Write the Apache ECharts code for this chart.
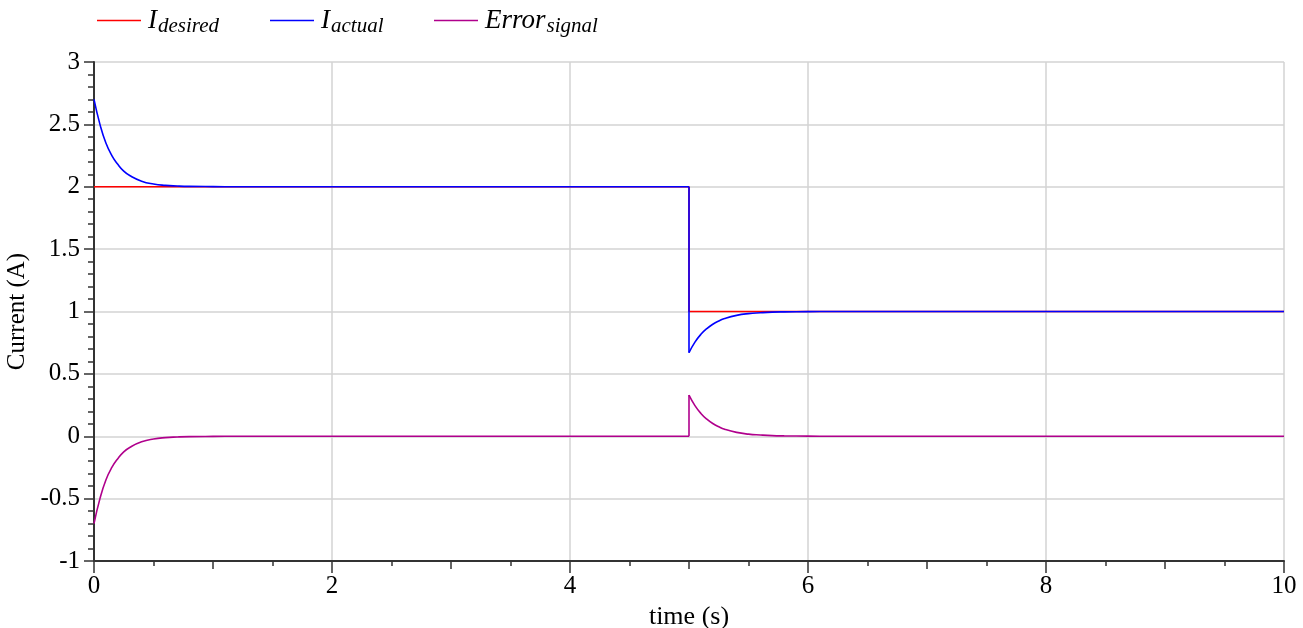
<!DOCTYPE html>
<html>
<head>
<meta charset="utf-8">
<script src="https://cdn.jsdelivr.net/npm/echarts@6/dist/echarts.min.js"></script>
<style>
  html, body { margin: 0; padding: 0; background: #ffffff; }
  #chart { width: 1303px; height: 628px; }
</style>
</head>
<body>
<div id="chart"></div>
<script>
// Setpoint current: steps from 2 A to 1 A at t = 5 s
const timeDesired = [0, 5, 5, 10];
const currentDesired = [2, 2, 1, 1];

// Sample times for the measured current and the error (t = 5 appears twice: the step)
const timeSampled = [
  0, 0.05, 0.1, 0.15, 0.2, 0.25, 0.3, 0.4, 0.5, 0.6, 0.7, 0.8, 1.0, 1.2, 2, 3, 4, 5,
  5, 5.05, 5.1, 5.15, 5.2, 5.25, 5.3, 5.4, 5.5, 5.6, 5.7, 5.8, 6.0, 6.2, 7, 8, 9, 10
];
const currentActual = [
  2.70, 2.50, 2.35, 2.25, 2.18, 2.125, 2.09, 2.045, 2.022, 2.011, 2.006, 2.003, 2.001, 2.0, 2.0, 2.0, 2.0, 2.0,
  0.67, 0.754, 0.817, 0.863, 0.898, 0.924, 0.944, 0.969, 0.983, 0.990, 0.995, 0.997, 0.999, 1.0, 1.0, 1.0, 1.0, 1.0
];
const errorSignal = [
  -0.70, -0.50, -0.35, -0.25, -0.18, -0.125, -0.09, -0.045, -0.022, -0.011, -0.006, -0.003, -0.001, 0, 0, 0, 0, 0,
  0.33, 0.246, 0.183, 0.137, 0.102, 0.076, 0.056, 0.031, 0.017, 0.010, 0.005, 0.003, 0.001, 0, 0, 0, 0, 0
];

// Legend entries: symbol and subscript
const seriesNames = ['Idesired', 'Iactual', 'Errorsignal'];
const legendSymbols = ['I', 'I', 'Error'];
const legendSubscripts = ['desired', 'actual', 'signal'];
const seriesColors = ['#ff0000', '#0000ff', '#b0008c'];

// Axis ranges and tick steps
const xRange = [0, 10];
const xMajorStep = 2;
const yRange = [-1, 3];
const yMajorStep = 0.5;

const FONT = 'Liberation Serif';

function pairs(t, v, from, to) {
  const out = [];
  for (let i = from; i <= to; i++) out.push([t[i], v[i]]);
  return out;
}

// Split a sampled curve at its step so the smooth parts stay smooth and the jump stays straight
function stepSeries(name, color, t, v) {
  let j = 0;
  while (j < t.length - 1 && t[j] !== t[j + 1]) j++;
  const base = {
    name, type: 'line', showSymbol: false, symbol: 'none',
    lineStyle: { color, width: 1.6 }, itemStyle: { color },
    emphasis: { disabled: true }, animation: false
  };
  return [
    Object.assign({}, base, { data: pairs(t, v, 0, j), smooth: 0.5 }),
    Object.assign({}, base, { data: pairs(t, v, j, j + 1) }),
    Object.assign({}, base, { data: pairs(t, v, j + 1, t.length - 1), smooth: 0.5 })
  ];
}

const legendLeft = [97, 270, 434];
const legends = seriesNames.map((n, i) => ({
  data: [n],
  left: legendLeft[i],
  top: 7,
  padding: 0,
  icon: 'rect',
  itemWidth: 44,
  itemHeight: 1.6,
  itemGap: 0,
  selectedMode: false,
  formatter: () => '{m|' + legendSymbols[i] + '}{s|' + legendSubscripts[i] + '}',
  textStyle: {
    color: '#000',
    rich: {
      m: { fontFamily: FONT, fontStyle: 'italic', fontSize: 27, color: '#000', padding: [0, 0, 0, 2] },
      s: { fontFamily: FONT, fontStyle: 'italic', fontSize: 21, color: '#000', padding: [12, 0, 0, 1] }
    }
  }
}));

const axisColor = '#333333';
const gridColor = '#d3d3d3';

const option = {
  backgroundColor: '#ffffff',
  animation: false,
  legend: legends,
  grid: { left: 94, right: 19, top: 62, bottom: 67, containLabel: false, outerBoundsMode: 'none' },
  xAxis: [
    {
      type: 'value', min: xRange[0], max: xRange[1], interval: xMajorStep,
      name: 'time (s)', nameLocation: 'middle', nameGap: 38,
      nameTextStyle: { fontFamily: FONT, fontSize: 26, color: '#000' },
      axisLine: { show: true, onZero: false, lineStyle: { color: axisColor, width: 2 } },
      axisTick: { show: true, length: 12, lineStyle: { color: axisColor, width: 1.5 } },
      minorTick: { show: true, splitNumber: 4, length: 5, lineStyle: { color: axisColor, width: 1.5 } },
      axisLabel: { fontFamily: FONT, fontSize: 25, color: '#000', margin: 13 },
      splitLine: { show: true, lineStyle: { color: gridColor, width: 1.5 } }
    },
    {
      // intermediate ticks at every whole second
      type: 'value', min: xRange[0], max: xRange[1], interval: 1, position: 'bottom',
      axisLine: { show: false, onZero: false },
      axisTick: { show: true, length: 8, lineStyle: { color: axisColor, width: 1.5 } },
      axisLabel: { show: false },
      splitLine: { show: false }
    }
  ],
  yAxis: {
    type: 'value', min: yRange[0], max: yRange[1], interval: yMajorStep,
    name: 'Current (A)', nameLocation: 'middle', nameGap: 60,
    nameTextStyle: { fontFamily: FONT, fontSize: 25, color: '#000' },
    axisLine: { show: true, onZero: false, lineStyle: { color: axisColor, width: 2 } },
    axisTick: { show: true, length: 10, lineStyle: { color: axisColor, width: 1.5 } },
    minorTick: { show: true, splitNumber: 5, length: 6, lineStyle: { color: axisColor, width: 1.5 } },
    axisLabel: { fontFamily: FONT, fontSize: 25, color: '#000', margin: 14 },
    splitLine: { show: true, lineStyle: { color: gridColor, width: 1.5 } }
  },
  series: [
    {
      name: seriesNames[0], type: 'line', showSymbol: false, symbol: 'none',
      data: pairs(timeDesired, currentDesired, 0, timeDesired.length - 1),
      lineStyle: { color: seriesColors[0], width: 1.6 }, itemStyle: { color: seriesColors[0] },
      emphasis: { disabled: true }
    },
    ...stepSeries(seriesNames[1], seriesColors[1], timeSampled, currentActual),
    ...stepSeries(seriesNames[2], seriesColors[2], timeSampled, errorSignal)
  ]
};

const chart = echarts.init(document.getElementById('chart'), null, { renderer: 'canvas' });
chart.setOption(option);
</script>
</body>
</html>
